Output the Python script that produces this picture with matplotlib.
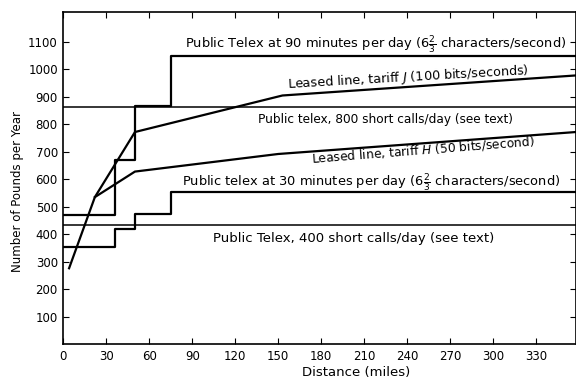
import matplotlib
matplotlib.use("Agg")
import matplotlib.pyplot as plt

plt.rcParams['font.family'] = ['DejaVu Sans']
plt.rcParams['mathtext.fontset'] = 'dejavusans'

# step tariffs (distance bands in miles, pounds per year)
band_edges = [0, 36, 50, 75, 358]
telex_90min = [470, 670, 865, 1050]
telex_30min = [352, 420, 474, 554]

# flat tariffs
calls_800 = 862
calls_400 = 434

# leased lines
leased_j_x = [4, 22, 50, 153, 358]
leased_j_y = [276, 535, 772, 905, 978]
leased_h_x = [22, 50, 150, 358]
leased_h_y = [535, 628, 692, 772]

x_ticks = list(range(0, 331, 30))
y_ticks = list(range(100, 1101, 100))


def step_xy(edges, values):
    xs, ys = [], []
    for i, v in enumerate(values):
        xs += [edges[i], edges[i + 1]]
        ys += [v, v]
    return xs, ys


def main():
    fig = plt.figure(figsize=(5.76, 3.84), dpi=100)
    ax = fig.add_axes([0.110, 0.104, 0.890, 0.8655])

    lw = 1.6
    x, y = step_xy(band_edges, telex_90min)
    ax.plot(x, y, color='black', lw=lw)
    x, y = step_xy(band_edges, telex_30min)
    ax.plot(x, y, color='black', lw=lw)
    ax.axhline(calls_800, color='black', lw=1.1)
    ax.axhline(calls_400, color='black', lw=1.1)
    ax.plot(leased_j_x, leased_j_y, color='black', lw=lw)
    ax.plot(leased_h_x, leased_h_y, color='black', lw=lw)

    fs = 9.2
    frac = r'$6\frac{2}{3}$'
    ax.text(85, 1090, 'Public Telex at 90 minutes per day (' + frac + ' characters/second)',
            fontsize=9.4, ha='left', va='center')
    ax.text(241, 970, r'Leased line, tariff $J$ (100 bits/seconds)',
            fontsize=fs, ha='center', va='center', rotation=3.3, rotation_mode='anchor')
    ax.text(136, 816, 'Public telex, 800 short calls/day (see text)',
            fontsize=8.7, ha='left', va='center')
    ax.text(251, 708, r'Leased line, tariff $H$ (50 bits/second)',
            fontsize=8.8, ha='center', va='center', rotation=4.5, rotation_mode='anchor')
    ax.text(83, 585, 'Public telex at 30 minutes per day (' + frac + ' characters/second)',
            fontsize=9.4, ha='left', va='center')
    ax.text(104.5, 384, 'Public Telex, 400 short calls/day (see text)',
            fontsize=9.5, ha='left', va='center')

    ax.set_xlim(0, 358)
    ax.set_ylim(0, 1210)
    ax.set_xticks(x_ticks)
    ax.set_yticks(y_ticks)
    ax.tick_params(direction='in', top=True, right=True, length=4,
                   labelsize=8.5, pad=4)
    ax.set_xlabel('Distance (miles)', fontsize=9.5)
    ax.set_ylabel('Number of Pounds per Year', fontsize=8.5)
    ax.xaxis.set_label_coords(0.572, -0.066)
    ax.yaxis.set_label_coords(-0.077, 0.46)
    for s in ax.spines.values():
        s.set_linewidth(1.2)

    fig.savefig('out.png', dpi=100)


if __name__ == "__main__":
    main()
